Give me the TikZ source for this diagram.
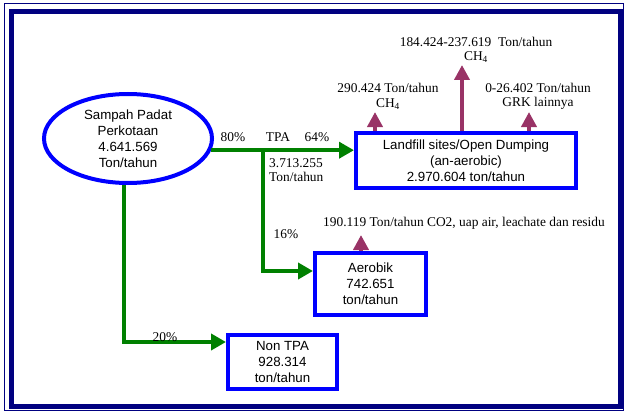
\documentclass[tikz,border=0pt]{standalone}
\usepackage{fontspec}
\setmainfont{Liberation Serif}
\setsansfont{Liberation Sans}
\usetikzlibrary{calc,shapes.geometric,arrows.meta}
\definecolor{flowgreen}{HTML}{008000}
\definecolor{gasred}{HTML}{993366}
\definecolor{framenavy}{HTML}{000080}
\def\drawflow{\draw[flow]}
\def\drawgas{\draw[gas]}
\def\boxnode{\node[wastebox]}
\def\lblnode{\node[lbl]}

\begin{document}
\begin{tikzpicture}[x=1pt,y=-1pt,
  flow/.style={color=flowgreen, line width=4pt, -{Triangle[length=15pt,width=16pt]}},
  gas/.style={color=gasred, line width=4pt, -{Triangle[length=15pt,width=15pt]}},
  wastebox/.style={draw=blue, line width=4pt, inner sep=0pt, align=center,
    font=\sffamily\fontsize{13.3}{16}\selectfont},
  lbl/.style={inner sep=0pt, align=center, font=\fontsize{13.4}{14.5}\selectfont}]
\useasboundingbox (0,0) rectangle (624,412);

% ---------- frame
\draw[framenavy, line width=1pt] (4,4) rectangle (623.5,410.5);
\draw[framenavy, line width=5pt] (11.5,11.5) rectangle (620.5,406.5);

% ---------- the waste boxes
\node[wastebox, ellipse, minimum width=168pt, minimum height=89pt] (sampah) at (128,138.5)
  {Sampah Padat\\Perkotaan\\4.641.569\\Ton/tahun};
\boxnode[minimum width=220pt, minimum height=55pt] (landfill) at (466,160.5)
  {Landfill sites/Open Dumping\\(an-aerobic)\\2.970.604 ton/tahun};
\boxnode[minimum width=111pt, minimum height=62pt] (aerobik) at (370.5,284)
  {Aerobik\\742.651\\ton/tahun};
\boxnode[minimum width=109pt, minimum height=54pt] (nontpa) at (282.5,362)
  {Non TPA\\928.314\\ton/tahun};

% ---------- green flows
\coordinate (split) at (263,151); % where the 16% branch leaves the TPA line
\drawflow (sampah.-8.5) -- (sampah.-8.5 -| landfill.west);
\drawflow (split) |- ($ (aerobik.west) + (0,-13) $);
\drawflow (sampah.-95) |- ($ (nontpa.west) + (0,-20) $);

\lblnode (p80) at (233,137) {80\%};
\lblnode (tpa) at (278,137) {TPA};
\lblnode (p64) at (317,137) {64\%};
\lblnode[anchor=west, align=left] (tpaton) at (269,170) {3.713.255\\Ton/tahun};
\lblnode (p16) at (286,234) {16\%};
\lblnode (p20) at (165,337) {20\%};

% ---------- emissions
\coordinate (gasmid) at (462,65);
\coordinate (gasleft) at (375,112);
\coordinate (gasright) at (529,112);
\coordinate (gasaer) at (361,235);
\drawgas (landfill.north -| gasmid) -- (gasmid);
\drawgas (landfill.north -| gasleft) -- (gasleft);
\drawgas (landfill.north -| gasright) -- (gasright);
\drawgas (aerobik.north -| gasaer) -- (gasaer);

\lblnode (ch4mid) at (476,50) {184.424-237.619~~Ton/tahun\\CH\textsubscript{4}};
\lblnode (ch4left) at (388,96.5) {290.424 Ton/tahun\\CH\textsubscript{4}};
\lblnode (grk) at (538,96.5) {0-26.402 Ton/tahun\\GRK lainnya};
\lblnode[anchor=west] (co2) at (323,223) {190.119 Ton/tahun CO2, uap air, leachate dan residu};
\end{tikzpicture}
\end{document}
